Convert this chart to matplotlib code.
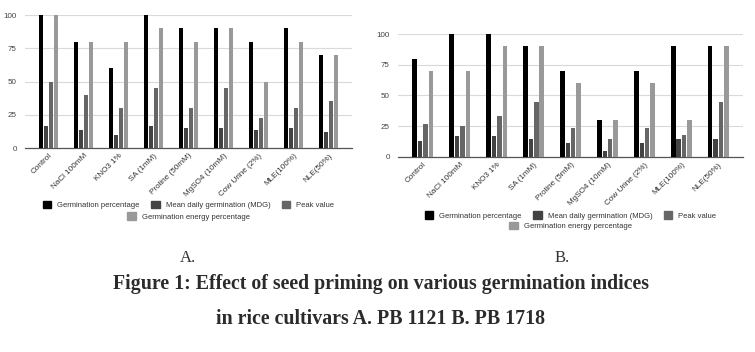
import matplotlib
matplotlib.use("Agg")
from matplotlib import pyplot as plt
from matplotlib.patches import Patch
import numpy as np

plt.rcParams['font.family'] = ['Liberation Sans', 'DejaVu Sans']

# treatments (x axis)
treat_a = ['Control', 'NaCl 100mM', 'KNO3 1%', 'SA (1mM)', 'Proline (50mM)',
           'MgSO4 (10mM)', 'Cow Urine (2%)', 'MLE(100%)', 'NLE(50%)']
treat_b = ['Control', 'NaCl 100mM', 'KNO3 1%', 'SA (1mM)', 'Proline (5mM)',
           'MgSO4 (10mM)', 'Cow Urine (2%)', 'MLE(100%)', 'NLE(50%)']

series = ['Germination percentage', 'Mean daily germination (MDG)',
          'Peak value', 'Germination energy percentage']

# A. PB 1121
gp_a = [100, 80, 60, 100, 90, 90, 80, 90, 70]
mdg_a = [16.7, 13.3, 10, 16.7, 15, 15, 13.3, 15, 11.7]
peak_a = [50, 40, 30, 45, 30, 45, 22.5, 30, 35]
ge_a = [100, 80, 80, 90, 80, 90, 50, 80, 70]

# B. PB 1718
gp_b = [80, 100, 100, 90, 70, 30, 70, 90, 90]
mdg_b = [13.3, 16.7, 16.7, 15, 11.7, 5, 11.7, 15, 15]
peak_b = [26.7, 25, 33.3, 45, 23.3, 15, 23.3, 18, 45]
ge_b = [70, 70, 90, 90, 60, 30, 60, 30, 90]

colors = ['#000000', '#434343', '#666666', '#999999']

fig = plt.figure(figsize=(7.55, 3.52), dpi=100)


def draw(rect, labels, data, leg_y):
    ax = fig.add_axes(rect)
    x = np.arange(len(labels))
    w = 0.12
    step = 0.146
    for i, vals in enumerate(data):
        ax.bar(x + (i - 1.5) * step, vals, width=w, color=colors[i], zorder=3)
    ax.set_xlim(-0.67, len(labels) - 0.33)
    ax.set_ylim(0, 100)
    ax.set_yticks([0, 25, 50, 75, 100])
    ax.yaxis.grid(True, color='#d9d9d9', linewidth=0.8, zorder=0)
    for s in ['top', 'right', 'left']:
        ax.spines[s].set_visible(False)
    ax.spines['bottom'].set_color('#555555')
    ax.spines['bottom'].set_linewidth(0.9)
    ax.set_xticks(x)
    ax.set_xticklabels(labels, rotation=45, ha='right', rotation_mode='anchor',
                       fontsize=5.9, color='#333333')
    ax.tick_params(axis='x', length=0, pad=3)
    ax.tick_params(axis='y', length=0, labelsize=5.8, labelcolor='#444444', pad=6)
    handles = [Patch(color=c) for c in colors]
    l1 = ax.legend(handles[:3], series[:3], loc='center', ncol=3,
                   bbox_to_anchor=(0.5, leg_y), frameon=False, fontsize=5.5,
                   handlelength=1.1, handleheight=1.1, columnspacing=1.5,
                   handletextpad=0.8, borderaxespad=0)
    for t in l1.get_texts():
        t.set_color('#333333')
    ax.add_artist(l1)
    l2 = ax.legend(handles[3:], series[3:], loc='center',
                   bbox_to_anchor=(0.5, leg_y - 0.085), frameon=False, fontsize=5.5,
                   handlelength=1.1, handleheight=1.1, handletextpad=0.8,
                   borderaxespad=0)
    for t in l2.get_texts():
        t.set_color('#333333')
    return ax


draw([0.0331, 0.5795, 0.4331, 0.3778], treat_a, [gp_a, mdg_a, peak_a, ge_a], -0.43)
draw([0.5272, 0.5540, 0.4570, 0.3494], treat_b, [gp_b, mdg_b, peak_b, ge_b], -0.475)

serif = ['Liberation Serif', 'DejaVu Serif']
fig.text(188 / 755, 1 - 258 / 352, 'A.', ha='center', va='center',
         fontsize=12, family=serif, color='#333333')
fig.text(562 / 755, 1 - 258 / 352, 'B.', ha='center', va='center',
         fontsize=12, family=serif, color='#333333')
fig.text(0.504, 1 - 284 / 352, 'Figure 1: Effect of seed priming on various germination indices',
         ha='center', va='center', fontsize=14.3, fontweight='bold', family=serif,
         color='#2b2b2b')
fig.text(0.504, 1 - 319 / 352, 'in rice cultivars A. PB 1121 B. PB 1718',
         ha='center', va='center', fontsize=14.3, fontweight='bold', family=serif,
         color='#2b2b2b')

fig.savefig('out.png', dpi=100)
